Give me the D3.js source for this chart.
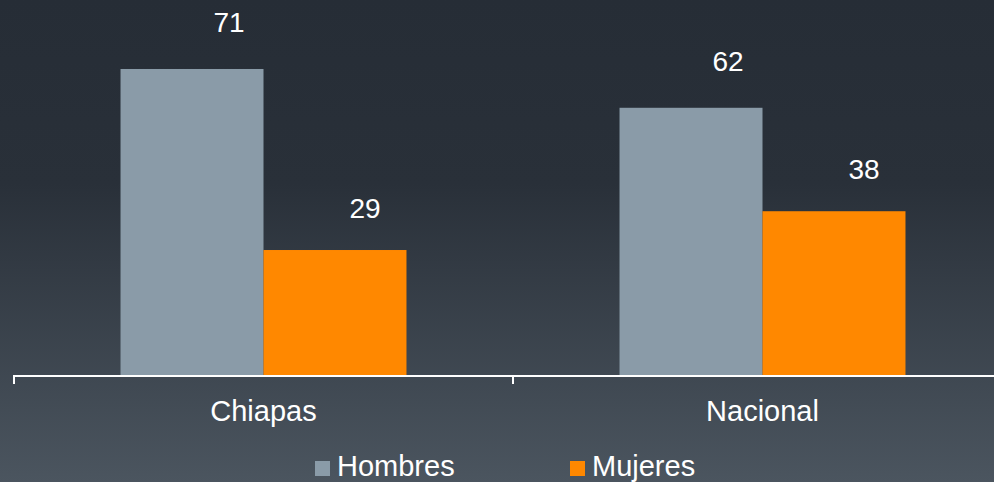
<!DOCTYPE html>
<html>
<head>
<meta charset="utf-8">
<script src="https://cdn.jsdelivr.net/npm/d3@7"></script>
<style>
  html, body { margin: 0; padding: 0; background: #272e37; }
  svg { display: block; font-family: "Liberation Sans", Arial, sans-serif; }
</style>
</head>
<body>
<svg id="chart"></svg>
<script>
const categories = ["Chiapas", "Nacional"]
const series = ["Hombres", "Mujeres"]
const hombres = [71, 62]
const mujeres = [29, 38]
const colors = ["#8a9ba8", "#ff8800"]

const width = 994
const height = 482

const svg = d3.select("#chart")
  .attr("width", width)
  .attr("height", height)

// background
const grad = svg.append("defs").append("linearGradient")
  .attr("id", "bg")
  .attr("x1", 0).attr("y1", 0).attr("x2", 0).attr("y2", 1)
grad.append("stop").attr("offset", "0").attr("stop-color", "#262d36")
grad.append("stop").attr("offset", "0.38").attr("stop-color", "#293039")
grad.append("stop").attr("offset", "1").attr("stop-color", "#4b555f")

svg.append("rect")
  .attr("width", width)
  .attr("height", height)
  .attr("fill", "url(#bg)")

const baseY = 375

const x0 = d3.scaleBand()
  .domain(categories)
  .range([14, 1012])
  .paddingInner(0)
  .paddingOuter(0)

const x1 = d3.scaleBand()
  .domain(series)
  .range([0, x0.bandwidth()])
  .paddingInner(0)
  .paddingOuter(0.745)

const y = d3.scaleLinear()
  .domain([0, 80])
  .range([baseY, baseY - 80 * 4.31])

// label offsets per series (labels sit up and to the right of each bar)
const labelDx = {Hombres: 37, Mujeres: 30}
const labelDy = {Hombres: -37, Mujeres: -32}

const rows = categories.map((c, i) => ({
  category: c,
  values: [
    {key: "Hombres", value: hombres[i]},
    {key: "Mujeres", value: mujeres[i]}
  ]
}))

const groups = svg.append("g")
  .selectAll("g")
  .data(rows)
  .enter().append("g")
  .attr("transform", d => `translate(${x0(d.category)},0)`)

groups.selectAll("rect")
  .data(d => d.values)
  .enter().append("rect")
  .attr("x", d => x1(d.key))
  .attr("y", d => y(d.value))
  .attr("width", x1.bandwidth())
  .attr("height", d => baseY - y(d.value))
  .attr("fill", d => colors[series.indexOf(d.key)])

groups.selectAll("text")
  .data(d => d.values)
  .enter().append("text")
  .attr("x", d => x1(d.key) + x1.bandwidth() / 2 + labelDx[d.key])
  .attr("y", d => y(d.value) + labelDy[d.key])
  .attr("text-anchor", "middle")
  .attr("fill", "#ffffff")
  .style("font-size", "28px")
  .text(d => d.value)

// axis
const axis = svg.append("g")
  .attr("transform", `translate(0,${baseY + 1})`)
  .call(d3.axisBottom(x0).tickSize(0).tickFormat(""))
axis.select(".domain").remove()

axis.append("line")
  .attr("x1", 13).attr("x2", width)
  .attr("stroke", "#ffffff")
  .attr("stroke-width", 2)

const tickXs = x0.domain().map(d => x0(d)).concat([x0.range()[1]])
axis.selectAll(".tk")
  .data(tickXs)
  .enter().append("line")
  .attr("class", "tk")
  .attr("x1", d => d).attr("x2", d => d)
  .attr("y1", 0).attr("y2", 8)
  .attr("stroke", "#ffffff")
  .attr("stroke-width", 2)

svg.append("g")
  .selectAll("text")
  .data(categories)
  .enter().append("text")
  .attr("x", d => x0(d) + x0.bandwidth() / 2)
  .attr("y", 421)
  .attr("text-anchor", "middle")
  .attr("fill", "#ffffff")
  .style("font-size", "29px")
  .text(d => d)

// legend
const legendX = [315, 570]
const legend = svg.append("g")
  .selectAll("g")
  .data(series)
  .enter().append("g")
  .attr("transform", (d, i) => `translate(${legendX[i]},461)`)

legend.append("rect")
  .attr("width", 15)
  .attr("height", 15)
  .attr("fill", (d, i) => colors[i])

legend.append("text")
  .attr("x", 22)
  .attr("y", 15)
  .attr("fill", "#ffffff")
  .style("font-size", "29px")
  .text(d => d)
</script>
</body>
</html>
